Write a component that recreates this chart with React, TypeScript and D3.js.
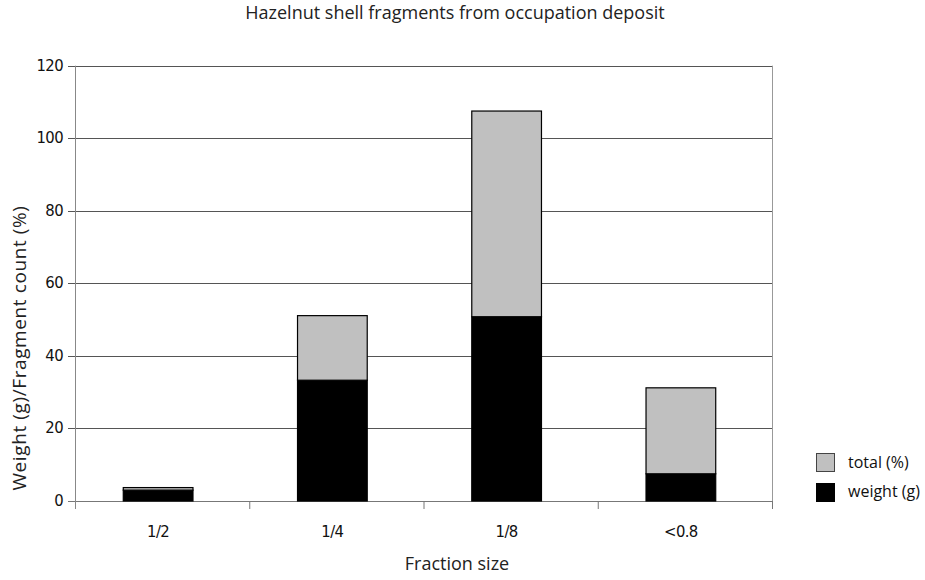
import React from "react";
import * as d3 from "d3";

const categories = ["1/2", "1/4", "1/8", "<0.8"];
const weightG = [3.0, 33.3, 50.8, 7.5];
const totalPct = [0.7, 17.8, 56.7, 23.7];
const yTicks = [0, 20, 40, 60, 80, 100, 120];

const W = 925, H = 580;
const left = 75, right = 772, top = 65.7, bottom = 501;
const font = "'Open Sans', 'Noto Sans', sans-serif";
const condFont = "'DejaVu Sans Condensed', 'DejaVu Sans', sans-serif";

export default function App() {
  const x = d3.scaleBand<string>().domain(categories).range([left, right]).paddingInner(0.6).paddingOuter(0.3);
  const y = d3.scaleLinear().domain([0, 120]).range([bottom, top]);
  const bandW = (right - left) / categories.length;
  const rows = categories.map((c, i) => ({ c, weight: weightG[i], total: totalPct[i] }));
  const stack = d3.stack<any>().keys(["weight", "total"])(rows);
  const colors: Record<string, string> = { weight: "#000000", total: "#c0c0c0" };
  const shift = -4;
  return (
    <svg width={W} height={H} style={{ position: "absolute", left: 0, top: 0 }} fontFamily={font}>
      <rect width={W} height={H} fill="#fff" />
      <text x={455} y={19} textAnchor="middle" fontSize={18} fill="#222">Hazelnut shell fragments from occupation deposit</text>
      {yTicks.map((t) => (
        <g key={t}>
          <line x1={left - 7} x2={right} y1={Math.round(y(t)) + 0.5} y2={Math.round(y(t)) + 0.5} stroke={t === 0 ? "#777" : "#555"} strokeWidth={1} />
          <text x={left - 12} y={y(t) + 5} textAnchor="end" fontSize={16.5} fill="#111" fontFamily={condFont} letterSpacing={-0.6}>{t}</text>
        </g>
      ))}
      <line x1={left + 0.5} x2={left + 0.5} y1={top} y2={bottom + 8} stroke="#888" />
      <line x1={right + 0.5} x2={right + 0.5} y1={top} y2={bottom} stroke="#999" />
      {categories.map((c, i) => (
        <line key={c} x1={left + bandW * (i + 1) + 0.5} x2={left + bandW * (i + 1) + 0.5} y1={bottom} y2={bottom + 8} stroke="#777" />
      ))}
      {stack.map((s) => (
        <g key={s.key}>
          {s.map((d: any, i: number) => (
            <rect key={i} x={(x(categories[i]) as number) + shift} width={x.bandwidth()} y={y(d[1])} height={y(d[0]) - y(d[1])} fill={colors[s.key]} stroke="#000" strokeWidth={1.2} />
          ))}
        </g>
      ))}
      {categories.map((c) => (
        <text key={c} x={(x(c) as number) + x.bandwidth() / 2 + shift} y={537} textAnchor="middle" fontSize={16.5} fill="#111" fontFamily={condFont} letterSpacing={-0.6}>{c}</text>
      ))}
      <text x={457} y={570} textAnchor="middle" fontSize={18} fill="#222">Fraction size</text>
      <text transform={`translate(26,348) rotate(-90)`} textAnchor="middle" fontSize={19} letterSpacing={0.6} fill="#222">Weight (g)/Fragment count (%)</text>
      <rect x={816.5} y={453.5} width={18} height={18} fill="#c0c0c0" stroke="#444" />
      <text x={848} y={468} fontSize={16} fill="#111">total (%)</text>
      <rect x={816.5} y={483.5} width={18} height={18} fill="#000" stroke="#000" />
      <text x={848} y={497} fontSize={16} fill="#111">weight (g)</text>
    </svg>
  );
}
